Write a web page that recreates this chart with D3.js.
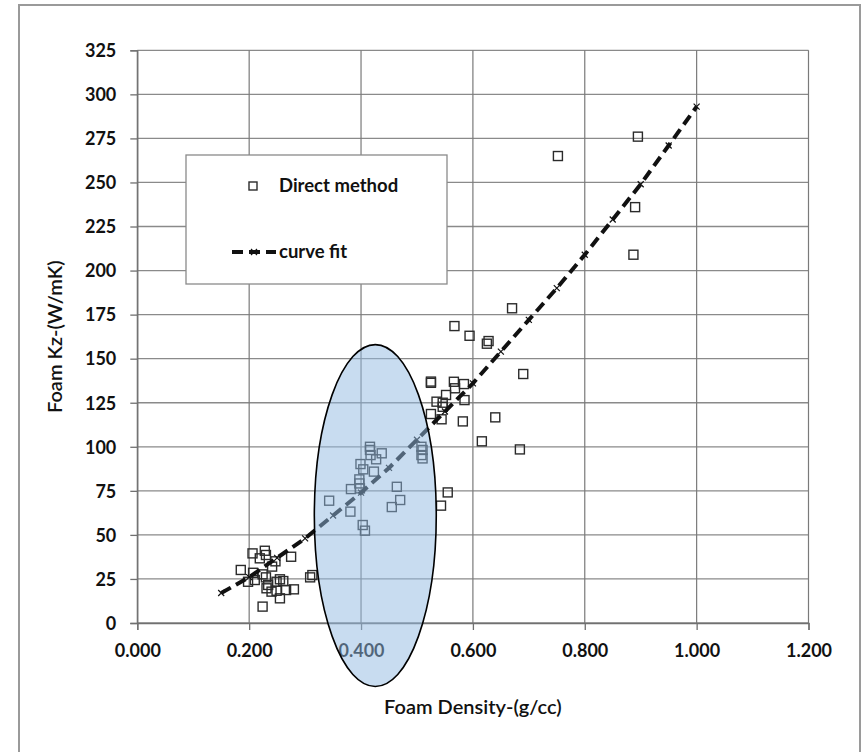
<!DOCTYPE html>
<html>
<head>
<meta charset="utf-8">
<script src="https://cdn.jsdelivr.net/npm/d3@7"></script>
<style>
  body { margin: 0; background: #fff; }
</style>
</head>
<body>
<div class="chart"></div>
<script>
// Direct method measurements (density g/cc, Kz W/mK)
const directDensity = [
  0.206, 0.228, 0.230, 0.219, 0.247, 0.275, 0.241, 0.185, 0.207, 0.224,
  0.230, 0.198, 0.210, 0.255, 0.261, 0.249, 0.231, 0.240, 0.249, 0.266,
  0.280, 0.255, 0.224, 0.309, 0.313, 0.234,
  0.343, 0.381, 0.382, 0.397, 0.397, 0.398, 0.399, 0.403, 0.404, 0.407,
  0.416, 0.416, 0.417, 0.423, 0.427, 0.437, 0.455, 0.464, 0.470,
  0.508, 0.510, 0.508, 0.510, 0.525, 0.525, 0.535, 0.544, 0.546, 0.546,
  0.552, 0.543, 0.555, 0.566, 0.568, 0.584, 0.585, 0.582, 0.616, 0.640,
  0.684, 0.690, 0.670, 0.567, 0.594, 0.625, 0.628, 0.525,
  0.752, 0.895, 0.890, 0.887
];
const directKz = [
  39.5, 41.0, 38.6, 36.7, 35.0, 37.6, 32.0, 30.1, 28.5, 27.6,
  25.9, 23.4, 24.4, 24.8, 23.8, 23.4, 19.7, 17.8, 18.3, 18.7,
  19.1, 14.0, 9.3, 25.9, 27.2, 21.6,
  69.4, 63.2, 76.0, 81.5, 79.2, 76.4, 90.2, 55.6, 87.2, 52.4,
  100.0, 98.2, 95.3, 85.9, 92.9, 96.3, 65.8, 77.3, 69.8,
  100.0, 98.2, 95.3, 93.4, 118.6, 136.3, 125.6, 115.6, 125.0, 122.7,
  129.4, 66.6, 74.1, 136.9, 133.2, 135.6, 126.5, 114.4, 103.1, 116.7,
  98.5, 141.3, 178.6, 168.5, 163.0, 158.5, 160.0, 137.0,
  265.0, 276.0, 236.0, 209.0
];

// Curve fit points
const fitDensity = [0.15, 0.20, 0.25, 0.30, 0.35, 0.40, 0.45, 0.50, 0.55,
  0.60, 0.65, 0.70, 0.75, 0.80, 0.85, 0.90, 0.95, 1.00];
const fitKz = [17, 26, 37, 48, 61, 74, 88, 104, 120,
  136, 154, 172, 190, 209, 229, 249, 271, 293];

const xTicks = [0, 0.2, 0.4, 0.6, 0.8, 1.0, 1.2];
const yTicks = [0, 25, 50, 75, 100, 125, 150, 175, 200, 225, 250, 275, 300, 325];

// highlighted region (data units)
const ellipseCenter = [0.4255, 61];
const ellipseRadius = [0.109, 97];

const W = 862, H = 752;
const margin = { top: 50.3, right: 53.5, bottom: 129, left: 137.3 };
const width = W - margin.left - margin.right;
const height = H - margin.top - margin.bottom;

const svg = d3.select(".chart").append("svg")
  .attr("width", W)
  .attr("height", H)
  .style("font-family", "Lato, 'Open Sans', sans-serif");

// outer chart frame
svg.append("rect")
  .attr("x", 19).attr("y", 5)
  .attr("width", 841).attr("height", 770)
  .attr("fill", "none")
  .attr("stroke", "#9a9a9a")
  .attr("stroke-width", 2);

const g = svg.append("g")
  .attr("transform", `translate(${margin.left},${margin.top})`);

const x = d3.scaleLinear().domain([0, 1.2]).range([0, width]);
const y = d3.scaleLinear().domain([0, 325]).range([height, 0]);

// gridlines
g.append("g").selectAll("line").data(yTicks).join("line")
  .attr("x1", 0).attr("x2", width)
  .attr("y1", d => y(d)).attr("y2", d => y(d))
  .attr("stroke", "#8a8a8a").attr("stroke-width", 1.3);
g.append("g").selectAll("line").data(xTicks).join("line")
  .attr("x1", d => x(d)).attr("x2", d => x(d))
  .attr("y1", 0).attr("y2", height)
  .attr("stroke", "#7a7a7a").attr("stroke-width", 1.2);

// axes
const xAxis = g.append("g")
  .attr("transform", `translate(0,${height})`)
  .call(d3.axisBottom(x).tickValues(xTicks).tickFormat(d3.format(".3f")).tickSize(7).tickPadding(14));
const yAxis = g.append("g")
  .call(d3.axisLeft(y).tickValues(yTicks).tickSize(7).tickPadding(14));
[xAxis, yAxis].forEach(a => {
  a.select(".domain").attr("stroke", "#707070").attr("stroke-width", 1.3);
  a.selectAll(".tick line").attr("stroke", "#707070").attr("stroke-width", 1.3);
  a.selectAll("text")
    .style("font-family", "Lato, sans-serif")
    .style("font-size", "18px")
    .style("font-weight", "bold")
    .attr("fill", "#111");
});
yAxis.selectAll("text").attr("dy", "0.35em");
xAxis.selectAll("text").attr("dy", "0.71em");

// scatter points
const pts = directDensity.map((d, i) => ({ x: d, y: directKz[i] }));
g.append("g").selectAll("rect").data(pts).join("rect")
  .attr("x", d => x(d.x) - 4.5)
  .attr("y", d => y(d.y) - 4.5)
  .attr("width", 9).attr("height", 9)
  .attr("fill", "none")
  .attr("stroke", "#2b2b2b")
  .attr("stroke-width", 1.4);

// curve fit
const fit = fitDensity.map((d, i) => ({ x: d, y: fitKz[i] }));
g.append("path")
  .datum(fit)
  .attr("d", d3.line().x(d => x(d.x)).y(d => y(d.y)))
  .attr("fill", "none")
  .attr("stroke", "#111")
  .attr("stroke-width", 4)
  .attr("stroke-dasharray", "11,6");
g.append("g").selectAll("path").data(fit).join("path")
  .attr("transform", d => `translate(${x(d.x)},${y(d.y)})`)
  .attr("d", "M-3,-3L3,3M-3,3L3,-3")
  .attr("stroke", "#111")
  .attr("stroke-width", 1.2);

// highlight ellipse
g.append("ellipse")
  .attr("cx", x(ellipseCenter[0]))
  .attr("cy", y(ellipseCenter[1]))
  .attr("rx", x(ellipseRadius[0]) - x(0))
  .attr("ry", y(0) - y(ellipseRadius[1]))
  .attr("fill", "rgb(145,185,225)")
  .attr("fill-opacity", 0.5)
  .attr("stroke", "#000")
  .attr("stroke-width", 1.6);

// legend
const legend = svg.append("g");
legend.append("rect")
  .attr("x", 186).attr("y", 155)
  .attr("width", 261).attr("height", 129)
  .attr("fill", "#fff")
  .attr("stroke", "#8a8a8a")
  .attr("stroke-width", 1.3);
legend.append("rect")
  .attr("x", 249).attr("y", 182)
  .attr("width", 8).attr("height", 8)
  .attr("fill", "none").attr("stroke", "#2b2b2b").attr("stroke-width", 1.4);
legend.append("text")
  .attr("x", 279).attr("y", 186).attr("dy", "0.35em")
  .style("font-size", "18.5px").style("font-weight", "bold")
  .attr("fill", "#111")
  .text("Direct method");
legend.append("line")
  .attr("x1", 232).attr("x2", 276)
  .attr("y1", 252).attr("y2", 252)
  .attr("stroke", "#111").attr("stroke-width", 4)
  .attr("stroke-dasharray", "11,6");
legend.append("path")
  .attr("transform", "translate(254,252)")
  .attr("d", "M-3,-3L3,3M-3,3L3,-3")
  .attr("stroke", "#111").attr("stroke-width", 1.2);
legend.append("text")
  .attr("x", 279).attr("y", 252).attr("dy", "0.35em")
  .style("font-size", "18.5px").style("font-weight", "bold")
  .attr("fill", "#111")
  .text("curve fit");

// axis titles
svg.append("text")
  .attr("x", margin.left + width / 2)
  .attr("y", 707).attr("dy", "0.35em")
  .attr("text-anchor", "middle")
  .style("font-size", "20px")
  .style("font-weight", "600")
  .attr("fill", "#111")
  .text("Foam Density-(g/cc)");

svg.append("text")
  .attr("transform", `translate(55,${margin.top + height / 2}) rotate(-90)`)
  .attr("dy", "0.35em")
  .attr("text-anchor", "middle")
  .style("font-size", "20px")
  .style("font-weight", "600")
  .attr("fill", "#111")
  .text("Foam Kz-(W/mK)");
</script>
</body>
</html>
